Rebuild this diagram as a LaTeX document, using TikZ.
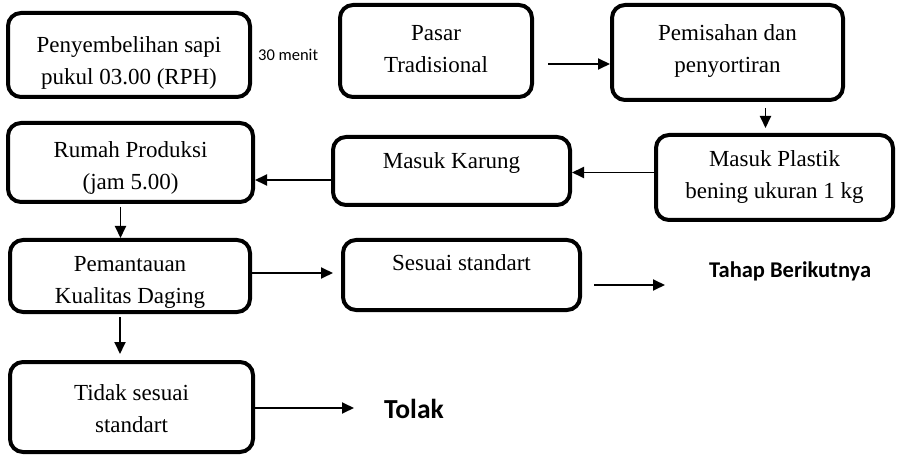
\documentclass[tikz,border=0pt]{standalone}
\usepackage{fontspec}
\setmainfont{Liberation Serif}
\newfontfamily\calfont{Carlito}
\usetikzlibrary{arrows.meta}
\newcommand\boxtext[2]{\raisebox{\dimexpr#1-8pt\relax}[0pt][0pt]{\begin{tabular}{@{}c@{}}#2\end{tabular}}}
\begin{document}
\begin{tikzpicture}[x=1pt,y=-1pt,
  stepbox/.style={draw=black, line width=4pt, rounded corners=13pt, align=center,
    inner sep=0pt, font=\fontsize{23}{32}\selectfont},
  arr/.style={-{Triangle[length=12pt,width=11pt]}, line width=1.9pt},
  sidetxt/.style={font=\calfont\bfseries\fontsize{22.5}{26}\selectfont, inner sep=0pt}]
\useasboundingbox (0,0) rectangle (900,457);
\node[stepbox, minimum width=242pt, minimum height=84pt] (sembelih) at (129,55)
  {\boxtext{-5pt}{Penyembelihan sapi\\pukul 03.00 (RPH)}};
\node[anchor=west, inner sep=0pt, font=\calfont\fontsize{16.5}{18}\selectfont] (menit) at (258,55) {30 menit};
\node[stepbox, minimum width=192pt, minimum height=92pt] (pasar) at (436,51)
  {\boxtext{2.5pt}{Pasar\\Tradisional}};
\node[stepbox, minimum width=231pt, minimum height=95pt] (pisah) at (727.5,52.5)
  {\boxtext{4pt}{Pemisahan dan\\penyortiran}};
\node[stepbox, minimum width=237pt, minimum height=85pt] (plastik) at (774.5,177.5)
  {\boxtext{3pt}{Masuk Plastik\\bening ukuran 1 kg}};
\node[stepbox, minimum width=237pt, minimum height=68pt] (karung) at (451.5,171)
  {\boxtext{11pt}{Masuk Karung}};
\node[stepbox, minimum width=245pt, minimum height=79pt] (rumah) at (130.5,162.5)
  {\boxtext{-3pt}{Rumah Produksi\\(jam 5.00)}};
\node[stepbox, minimum width=240pt, minimum height=72pt] (pantau) at (130,276)
  {\boxtext{-3.5pt}{Pemantauan\\Kualitas Daging}};
\node[stepbox, minimum width=237pt, minimum height=70pt] (sesuai) at (461.5,275)
  {\boxtext{13pt}{Sesuai standart}};
\node[stepbox, minimum width=243pt, minimum height=90pt] (tidak) at (131.5,407)
  {\boxtext{-1.5pt}{Tidak sesuai\\standart}};
\node[sidetxt, anchor=west] (tahap) at (709,271) {Tahap Berikutnya};
\node[sidetxt, anchor=west, font=\calfont\bfseries\fontsize{27.5}{30}\selectfont] (tolak) at (384,409) {Tolak};
% connectors
\draw[arr, shorten <=14pt] ([yshift=-13pt]pasar.east) -- ([yshift=-13pt]pasar.east -| pisah.west);
\draw[arr, shorten <=6pt, shorten >=5pt] ([xshift=38pt]pisah.south) -- ([xshift=38pt]pisah.south |- plastik.north);
\draw[arr] ([yshift=5pt]plastik.west) -- ([yshift=5pt]plastik.west -| karung.east);
\draw[arr] ([yshift=-9pt]karung.west) -- ([yshift=-9pt]karung.west -| rumah.east);
\draw[arr, shorten <=3pt] ([xshift=-10pt]rumah.south) -- ([xshift=-10pt]rumah.south |- pantau.north);
\draw[arr, shorten >=8pt] ([yshift=3pt]pantau.east) -- ([yshift=3pt]pantau.east -| sesuai.west);
\draw[arr, shorten <=12pt, shorten >=44pt] ([yshift=-10pt]sesuai.east) -- ([yshift=-10pt]sesuai.east -| tahap.west);
\draw[arr, shorten <=3pt, shorten >=6pt] ([xshift=-10pt]pantau.south) -- ([xshift=-10pt]pantau.south |- tidak.north);
\draw[arr, shorten >=30pt] ([yshift=-1pt]tidak.east) -- ([yshift=-1pt]tidak.east -| tolak.west);
\end{tikzpicture}
\end{document}
